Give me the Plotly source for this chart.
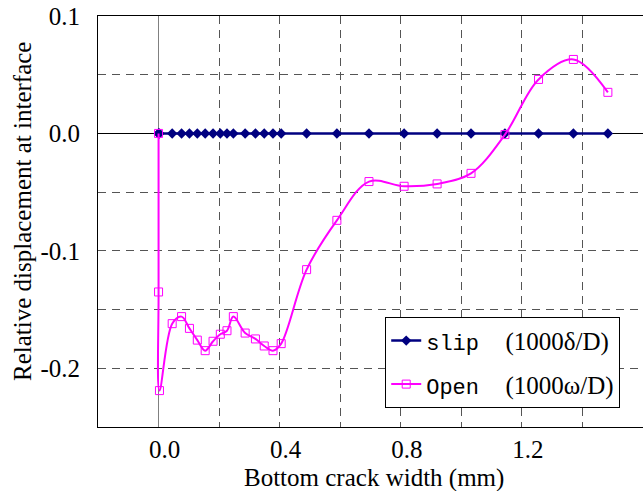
import plotly.graph_objects as go

crack_width = [0, 0, 0.003, 0.045, 0.076, 0.102, 0.128, 0.154, 0.180, 0.204, 0.226, 0.247,
               0.286, 0.320, 0.349, 0.378, 0.405, 0.489, 0.589, 0.695, 0.811, 0.920,
               1.032, 1.144, 1.255, 1.370, 1.484]
slip = [0.0] * len(crack_width)
open_disp = [0, -0.135, -0.219, -0.162, -0.156, -0.166, -0.176, -0.185, -0.177, -0.171,
             -0.168, -0.156, -0.170, -0.175, -0.181, -0.185, -0.179, -0.116, -0.074,
             -0.041, -0.045, -0.043, -0.034, -0.001, 0.046, 0.063, 0.035]

x_ticks = [0.0, 0.2, 0.4, 0.6, 0.8, 1.0, 1.2, 1.4]
x_labels = ["0.0", "", "0.4", "", "0.8", "", "1.2", ""]
y_ticks = [0.1, 0.05, 0.0, -0.05, -0.1, -0.15, -0.2]
y_labels = ["0.1", "", "0.0", "", "-0.1", "", "-0.2"]

serif = "Liberation Serif"
mono = "Liberation Mono"
NB = "\u00a0"
FS = 25

fig = go.Figure()
fig.add_trace(go.Scatter(
    x=crack_width, y=slip, mode="lines+markers",
    name=f'<span style="font-family:{mono};font-size:22px">slip{NB}{NB}</span>(1000δ/D)',
    line=dict(color="#000080", width=2.5),
    marker=dict(symbol="diamond", size=8, color="#000080"),
    legendgroup="a",
))
fig.add_trace(go.Scatter(
    x=crack_width, y=open_disp, mode="lines+markers",
    name=f'<span style="font-family:{mono};font-size:22px">Open{NB}{NB}</span>(1000ω/D)',
    line=dict(color="#FF00FF", width=2, shape="spline", smoothing=1),
    marker=dict(symbol="square-open", size=8, color="#FF00FF", line=dict(width=1)),
    legendgroup="b",
))

fig.update_layout(
    width=643, height=491,
    margin=dict(l=98, r=0, t=16, b=64),
    paper_bgcolor="white", plot_bgcolor="white",
    font=dict(family=serif, size=FS, color="black"),
    showlegend=True,
    legend=dict(
        x=0.527, y=0.268, xanchor="left", yanchor="top",
        bordercolor="black", borderwidth=1, bgcolor="white",
        font=dict(family=serif, size=FS, color="black"),
        traceorder="grouped", tracegroupgap=8,
    ),
    xaxis=dict(
        range=[-0.2, 1.6], tickvals=x_ticks, ticktext=x_labels,
        showgrid=True, gridcolor="#555555", griddash="8px,6px", gridwidth=1,
        zeroline=True, zerolinecolor="#808080", zerolinewidth=1,
        showline=True, linecolor="black", linewidth=1, mirror=True,
        ticks="", ticklabelshift=6, ticklabelstandoff=0,
        tickfont=dict(family=serif, size=FS),
    ),
    yaxis=dict(
        range=[-0.25, 0.1], tickvals=y_ticks, ticktext=y_labels,
        showgrid=True, gridcolor="#555555", griddash="8px,6px", gridwidth=1,
        zeroline=True, zerolinecolor="black", zerolinewidth=1,
        showline=True, linecolor="black", linewidth=1, mirror=False,
        ticks="", ticklabelstandoff=12, tickfont=dict(family=serif, size=FS),
    ),
    annotations=[
        dict(text="Bottom crack width (mm)", xref="paper", yref="paper",
             x=(374 - 98) / 545, y=0, yshift=-51, xanchor="center", yanchor="middle",
             showarrow=False, font=dict(family=serif, size=FS)),
        dict(text="Relative displacement at interface", xref="paper", yref="paper",
             x=0, xshift=-76, y=(427 - 212) / 411, textangle=-90,
             xanchor="center", yanchor="middle",
             showarrow=False, font=dict(family=serif, size=FS)),
    ],
)

fig.write_html("out.html")
